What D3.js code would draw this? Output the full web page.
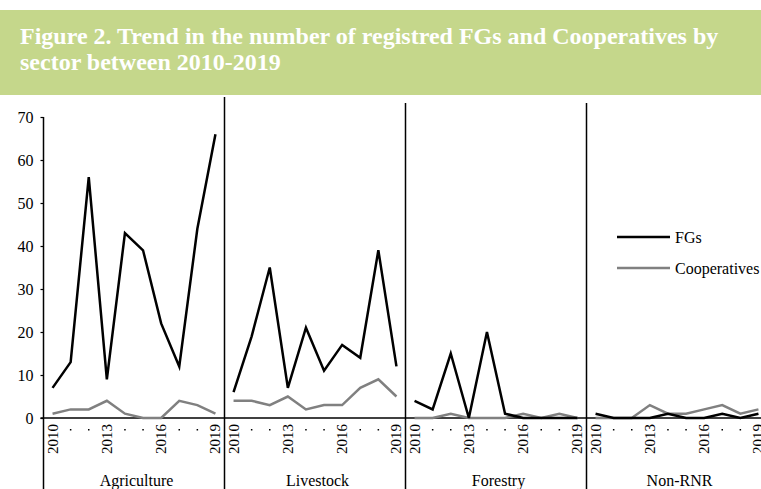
<!DOCTYPE html>
<html><head><meta charset="utf-8">
<script src="https://cdn.jsdelivr.net/npm/d3@7"></script>
<style>body{margin:0;background:#fff}svg{display:block}
svg text{font-family:"Liberation Serif","Times New Roman",Tinos,"DejaVu Serif",serif;}</style>
</head><body>
<svg id="c" width="761" height="489"></svg>
<script>
const years = [2010,2011,2012,2013,2014,2015,2016,2017,2018,2019];
const sectors = ["Agriculture","Livestock","Forestry","Non-RNR"];
const fgs = [
  [7,13,56,9,43,39,22,12,44,66],
  [6,19,35,7,21,11,17,14,39,12],
  [4,2,15,0,20,1,0,0,0,0],
  [1,0,0,0,1,0,0,1,0,1]
];
const coops = [
  [1,2,2,4,1,0,0,4,3,1],
  [4,4,3,5,2,3,3,7,9,5],
  [0,0,1,0,0,0,1,0,1,0],
  [0,0,0,3,1,1,2,3,1,2]
];
const yTicks = [0,10,20,30,40,50,60,70];
const yearLabels = ["2010","","","2013","","","2016","","","2019"];
const seriesNames = ["FGs","Cooperatives"];
const seriesColors = ["#000000","#808080"];

const svg = d3.select("#c");

// Title banner
svg.append("rect").attr("x",0).attr("y",10).attr("width",761).attr("height",85).attr("fill","#c5d78b");
const titleLines = ["Figure 2. Trend in the number of registred FGs and Cooperatives by","sector between 2010-2019"];
svg.selectAll("text.title").data(titleLines).join("text")
  .attr("class","title").attr("x",20).attr("y",(d,i)=>44+i*26)
  .attr("fill","#fff").attr("font-weight","bold").attr("font-size",24)
  .text(d=>d);

const x0 = 43.5, pw = 181;
const y = d3.scaleLinear().domain([0,70]).range([418,117]);

// y axis
const yAxis = d3.axisLeft(y).tickValues(yTicks).tickSize(3).tickPadding(7);
const ga = svg.append("g").attr("transform",`translate(${x0},0)`).call(yAxis);
ga.select(".domain").remove();
ga.selectAll("line").attr("stroke","#000").attr("stroke-width",1.2);
ga.selectAll("text").attr("font-size",16).attr("fill","#000").attr("font-family",null);
svg.append("line").attr("x1",x0).attr("x2",x0).attr("y1",117).attr("y2",489).attr("stroke","#000").attr("stroke-width",1.5);

// x axis line
svg.append("line").attr("x1",x0-3).attr("x2",761).attr("y1",418).attr("y2",418).attr("stroke","#000").attr("stroke-width",1.5);

sectors.forEach((s,i)=>{
  const px = x0 + i*pw;
  const x = d3.scaleBand().domain(years).range([px, px+pw]).padding(0);
  const cx = d => x(d)+x.bandwidth()/2;
  svg.append("line").attr("x1",px+pw).attr("x2",px+pw).attr("y1",i===0?97:103).attr("y2",489)
    .attr("stroke","#000").attr("stroke-width",1.5);
  const line = d3.line().x((d,j)=>cx(years[j])).y(d=>y(d));
  [coops[i], fgs[i]].forEach((vals,k)=>{
    svg.append("path").attr("d",line(vals)).attr("fill","none")
      .attr("stroke", k===0?seriesColors[1]:seriesColors[0]).attr("stroke-width",2.5)
      .attr("stroke-linejoin","miter");
  });
  years.forEach((yr,j)=>{
    if (yearLabels[j]) {
      svg.append("text").attr("transform",`translate(${cx(yr)},424) rotate(-90)`)
        .attr("text-anchor","end").attr("dominant-baseline","central")
        .attr("font-size",15).attr("fill","#000").text(yearLabels[j]);
    } else {
      svg.append("rect").attr("x",cx(yr)-0.75).attr("y",429).attr("width",1.5).attr("height",1.5).attr("fill","#000");
    }
  });
  svg.append("text").attr("x",px+pw/2+2.5).attr("y",486).attr("text-anchor","middle")
    .attr("font-size",16).attr("fill","#000").text(s);
});

// legend
seriesNames.forEach((n,k)=>{
  const ly = 237 + k*31;
  svg.append("line").attr("x1",617).attr("x2",670).attr("y1",ly).attr("y2",ly)
    .attr("stroke",seriesColors[k]).attr("stroke-width",2.5);
  svg.append("text").attr("x",675).attr("y",ly).attr("dominant-baseline","central")
    .attr("font-size",16).attr("fill","#000").text(n);
});
</script>
</body></html>
